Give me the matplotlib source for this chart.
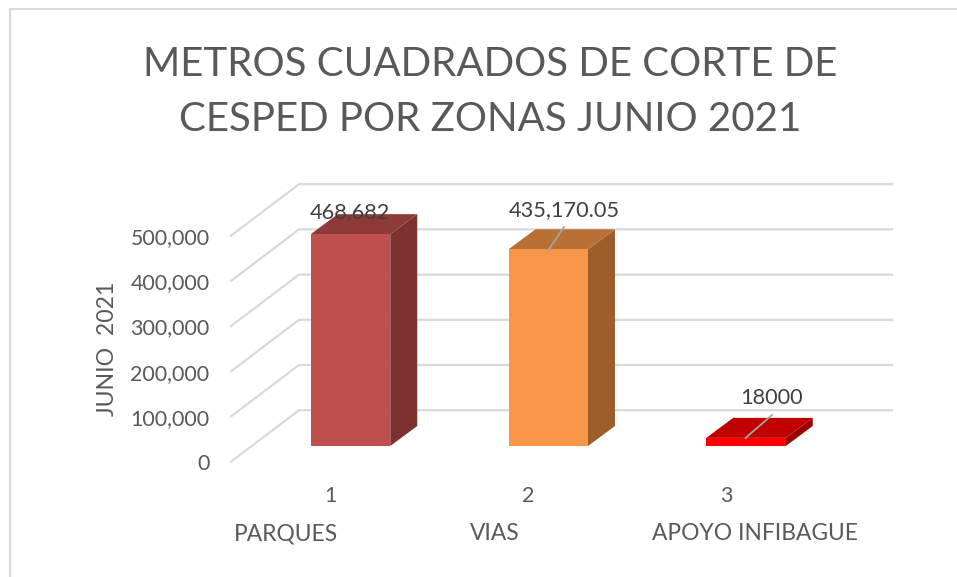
import matplotlib
matplotlib.use("Agg")
import matplotlib.pyplot as plt
from matplotlib.patches import Polygon, Rectangle

plt.rcParams['font.family'] = ['Lato', 'DejaVu Sans']

TITLE = "METROS CUADRADOS DE CORTE DE\nCESPED POR ZONAS JUNIO 2021"
AXIS_TITLE = "JUNIO  2021"
positions = [1, 2, 3]
zones = ["PARQUES", "VIAS", "APOYO INFIBAGUE"]
values = [468682, 435170.05, 18000]
value_labels = ["468,682", "435,170.05", "18000"]
ticks = [0, 100000, 200000, 300000, 400000, 500000]
front_colors = ["#C0504D", "#F79646", "#FF0000"]
top_colors = ["#8E3A38", "#B97035", "#C00000"]
side_colors = ["#7D3230", "#9C5E2A", "#9A0000"]

W, H = 957, 577
PX_X = 197.75       # pixels per category
PX_Y = 45.2 / 1e5   # pixels per value unit
X1 = 350.5          # pixel of category 1
Y0 = 446.0          # pixel of value 0 at the bars' front plane

fig = plt.figure(figsize=(W / 100, H / 100), dpi=100)
ax = fig.add_axes([0, 0, 1, 1])
ax.set_xlim(1 - X1 / PX_X, 1 + (W - X1) / PX_X)
ax.set_ylim((Y0 - H) / PX_Y, Y0 / PX_Y)
ax.axis("off")

def dx(px):
    return px / PX_X

def dy(px):
    return px / PX_Y

# chart frame
ax.add_patch(Rectangle((1 + (10.5 - X1) / PX_X, (Y0 - 590) / PX_Y), dx(1000), dy(581),
                       fill=False, ec="#D9D9D9", lw=1.5, zorder=1))

# gridlines: back wall and side wall
wall_left = 1 + (231 - X1) / PX_X
wall_back = 1 + (299 - X1) / PX_X
wall_right = 1 + (892 - X1) / PX_X
for t in ticks:
    ax.plot([wall_left, wall_back, wall_right],
            [t - dy(15.7), t + dy(35.8), t + dy(35.8)],
            color="#D9D9D9", lw=1.6, zorder=2, solid_joinstyle="miter")
    ax.text(1 + (209.5 - X1) / PX_X, t - dy(18), f"{t:,}", ha="right", va="center",
            fontsize=15.4, color="#595959", zorder=6)

# 3D bars
bar_w = 79.5 / PX_X
depth_x, depth_y = dx(27), dy(20)
for x, v, cf, ct, cs in zip(positions, values, front_colors, top_colors, side_colors):
    l, r = x - bar_w / 2, x + bar_w / 2
    ax.add_patch(Polygon([(r, 0), (r + depth_x, depth_y), (r + depth_x, v + depth_y), (r, v)],
                         fc=cs, ec="none", zorder=3))
    ax.add_patch(Polygon([(l, v), (r, v), (r + depth_x, v + depth_y), (l + depth_x, v + depth_y)],
                         fc=ct, ec="none", zorder=3))
    ax.add_patch(Rectangle((l, 0), bar_w, v, fc=cf, ec="none", zorder=3))

# data labels and leader lines
label_px = [(350, 212), (564, 210), (772, 398)]
leaders = [None, ((548.5, 250), (564, 227)), ((745.5, 438), (772, 415))]
for s, (px, py), lead in zip(value_labels, label_px, leaders):
    ax.text(1 + (px - X1) / PX_X, (Y0 - py) / PX_Y, s, ha="center", va="center",
            fontsize=15.7, color="#404040", zorder=6)
    if lead:
        ax.plot([1 + (lead[0][0] - X1) / PX_X, 1 + (lead[1][0] - X1) / PX_X],
                [(Y0 - lead[0][1]) / PX_Y, (Y0 - lead[1][1]) / PX_Y],
                color="#A6A6A6", lw=1.3, zorder=5)

# category labels
for x, name, npx, nx in zip(positions, zones, [330, 528, 726], [286, 495, 755]):
    ax.text(1 + (npx - X1) / PX_X, (Y0 - 495.5) / PX_Y, str(x), ha="center", va="center",
            fontsize=15.4, color="#595959")
    ax.text(1 + (nx - X1) / PX_X, (Y0 - 533.5) / PX_Y, name, ha="center", va="center",
            fontsize=16.4, color="#595959")

ax.text(1 + (108 - X1) / PX_X, (Y0 - 349) / PX_Y, AXIS_TITLE, rotation=90, ha="center", va="center",
        fontsize=16.6, color="#595959")
ax.text(1 + (490 - X1) / PX_X, (Y0 - 92) / PX_Y, TITLE, ha="center", va="center",
        fontsize=29, color="#595959", linespacing=1.6)

fig.savefig("out.png", dpi=100)
